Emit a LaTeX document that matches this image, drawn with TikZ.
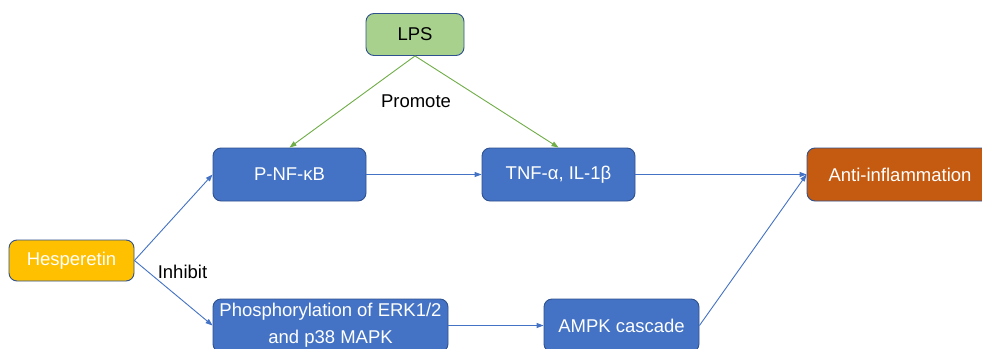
\documentclass[tikz,border=0pt]{standalone}
\usepackage{fontspec}
\setmainfont{Liberation Sans}
\usetikzlibrary{arrows.meta}
\definecolor{boxblue}{HTML}{4472C4}
\definecolor{edgeblue}{HTML}{2F528F}
\definecolor{lpsgreen}{HTML}{A9D18E}
\definecolor{arrgreen}{HTML}{70AD47}
\definecolor{hesyellow}{HTML}{FFC000}
\definecolor{antiorange}{HTML}{C55A11}
\tikzset{
  box/.style={draw=edgeblue, line width=0.9pt, rounded corners=8pt, fill=boxblue, text=white,
    font=\fontsize{18.5}{27}\selectfont, align=center, inner sep=0pt, minimum height=53pt},
  conn/.style={draw=boxblue, line width=0.9pt, -{Triangle[length=7pt,width=5pt]}},
  gconn/.style={draw=arrgreen, line width=0.9pt, -{Triangle[length=7pt,width=5pt]}},
  lbl/.style={font=\fontsize{18.5}{22}\selectfont, text=black, inner sep=0pt}
}
\begin{document}
\begin{tikzpicture}[x=1pt,y=-1pt]
\useasboundingbox (0,0) rectangle (982,348);
\clip (0,0) rectangle (982,348);
\fill[white] (0,0) rectangle (982,348);
\node[box, fill=hesyellow, minimum width=125pt, minimum height=41pt] (hes) at (71.5,260.5) {Hesperetin};
\node[box, fill=lpsgreen, text=black, minimum width=98pt, minimum height=42pt] (lps) at (415,34.5) {LPS};
\node[box, minimum width=153pt] (nfkb) at (289.5,174.5) {P-NF-κB};
\node[box, minimum width=153pt] (tnf) at (558.5,174.5) {TNF-α, IL-1β};
\node[box, fill=antiorange, minimum width=186pt] (anti) at (900,174.5) {Anti-inflammation};
\node[box, minimum width=235pt] (phos) at (330.5,325.5) {Phosphorylation of ERK1/2\\and p38 MAPK};
\node[box, minimum width=155pt] (ampk) at (621.5,325.5) {AMPK cascade};
\node[lbl] (promote) at (416,101) {Promote};
\node[lbl] (inhibit) at (182.5,272) {Inhibit};
\draw[gconn] (lps.south) -- (nfkb.north);
\draw[gconn] (lps.south) -- (tnf.north);
\draw[conn] (hes.east) -- (nfkb.west);
\draw[conn] (hes.east) -- (phos.west);
\draw[conn] (nfkb.east) -- (tnf.west);
\draw[conn] (tnf.east) -- (anti.west);
\draw[conn] (phos.east) -- (ampk.west);
\draw[conn] (ampk.east) -- (anti.west);
\end{tikzpicture}
\end{document}
